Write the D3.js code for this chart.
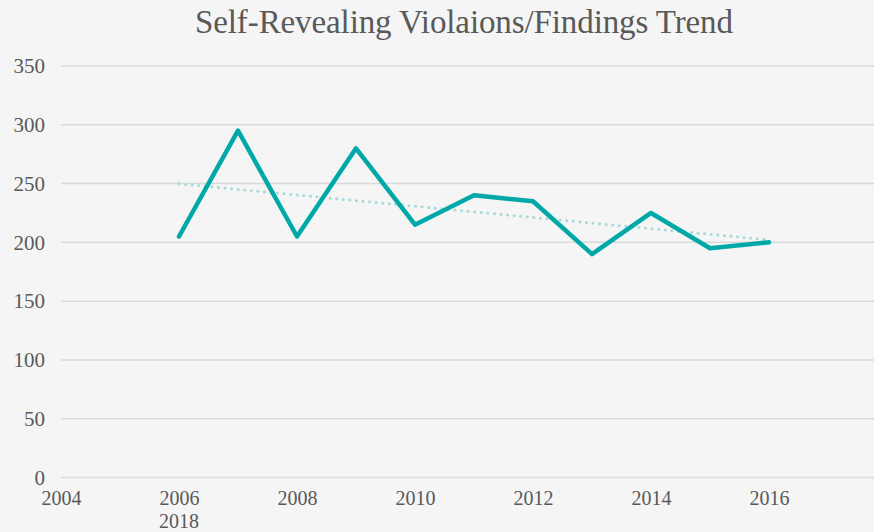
<!DOCTYPE html>
<html><head><meta charset="utf-8">
<script src="https://cdn.jsdelivr.net/npm/d3@7"></script>
<style>html,body{margin:0;padding:0;background:#f5f5f5;}svg{display:block;}</style>
</head><body>
<script>
const years = [2006,2007,2008,2009,2010,2011,2012,2013,2014,2015,2016];
const values = [205,295,205,280,215,240,235,190,225,195,200];
const xTickLabels = [2004,2006,2008,2010,2012,2014,2016];
const wrappedTickLabels = ["2018"];
const yTicks = [0,50,100,150,200,250,300,350];
const title = "Self-Revealing Violaions/Findings Trend";

const W = 874, H = 532;
const svg = d3.select("body").append("svg").attr("width", W).attr("height", H);
svg.append("rect").attr("width", W).attr("height", H).attr("fill", "#f5f5f5");

const x = d3.scaleLinear().domain([2004, 2004 + (874 - 61) / 59]).range([61, 874]);
const y = d3.scaleLinear().domain([0, 350]).range([477.5, 66]);

const font = "'Liberation Serif','Times New Roman',serif";
const textColor = "#595959";

// gridlines
svg.append("g").selectAll("line").data(yTicks).join("line")
  .attr("x1", 61).attr("x2", W)
  .attr("y1", d => y(d)).attr("y2", d => y(d))
  .attr("stroke", "#d9d9d9").attr("stroke-width", 1.5);

// y axis labels
const yAxis = d3.axisLeft(y).tickValues(yTicks).tickSize(0).tickPadding(0);
const gy = svg.append("g").attr("transform", "translate(45,0)").call(yAxis);
gy.select(".domain").remove();
gy.selectAll("text").attr("font-family", font).attr("font-size", 21).attr("fill", textColor).attr("dy", "0.32em");

// x axis labels
const xAxis = d3.axisBottom(x).tickValues(xTickLabels).tickFormat(d3.format("d")).tickSize(0).tickPadding(0);
const gx = svg.append("g").attr("transform", "translate(0,505)").call(xAxis);
gx.select(".domain").remove();
gx.selectAll("text").attr("font-family", font).attr("font-size", 20).attr("fill", textColor).attr("dy", 0);
// wrapped overflow label
svg.append("g").selectAll("text").data(wrappedTickLabels).join("text")
  .attr("x", (d, i) => x(xTickLabels[i + 1])).attr("y", 527.5)
  .attr("text-anchor", "middle").attr("font-family", font).attr("font-size", 20).attr("fill", textColor)
  .text(d => d);

// trendline (linear regression)
const n = years.length;
const mx = d3.mean(years), my = d3.mean(values);
const slope = d3.sum(years.map((v, i) => (v - mx) * (values[i] - my))) / d3.sum(years.map(v => (v - mx) ** 2));
const icpt = my - slope * mx;
const trend = [years[0], years[n - 1]].map(v => [v, icpt + slope * v]);
svg.append("path").datum(trend)
  .attr("d", d3.line().x(d => x(d[0])).y(d => y(d[1])))
  .attr("fill", "none").attr("stroke", "#a8dada").attr("stroke-width", 3)
  .attr("stroke-linecap", "round").attr("stroke-dasharray", "0.1 6.5");

// data line
svg.append("path").datum(years.map((v, i) => [v, values[i]]))
  .attr("d", d3.line().x(d => x(d[0])).y(d => y(d[1])))
  .attr("fill", "none").attr("stroke", "#00a9a8").attr("stroke-width", 4.5)
  .attr("stroke-linejoin", "round").attr("stroke-linecap", "round");

// title
svg.append("text").attr("x", 464).attr("y", 33).attr("text-anchor", "middle")
  .attr("font-family", font).attr("font-size", 33).attr("fill", textColor)
  .attr("textLength", 538).attr("lengthAdjust", "spacing")
  .text(title);
</script>
</body></html>
